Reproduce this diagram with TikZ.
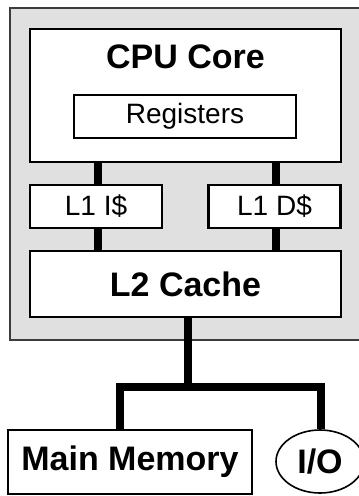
\documentclass[tikz,border=0pt]{standalone}
\usepackage{fontspec}
\setmainfont{Liberation Sans}
\usetikzlibrary{shapes.geometric}
\definecolor{chipfill}{RGB}{224,224,224}
\definecolor{chipedge}{RGB}{60,60,60}
\tikzset{
  unit/.style={draw=black, line width=2.6pt, fill=white, inner sep=0pt, rectangle},
  bigtext/.style={font=\fontsize{34}{38}\selectfont\bfseries},
  smalltext/.style={font=\fontsize{28}{32}\selectfont},
  bus/.style={line width=8.5pt, line join=miter, black},
}
\begin{document}
\begin{tikzpicture}[x=1pt, y=-1pt]
  \useasboundingbox (0,0) rectangle (359,496);
  \clip (0,0) rectangle (359,496);

  % processor chip outline
  \node[draw=chipedge, line width=2pt, fill=chipfill, rectangle, inner sep=0pt,
        minimum width=360pt, minimum height=332pt, anchor=north west] (chip) at (8.5,7) {};

  % core and caches
  \node[unit, minimum width=311pt, minimum height=133pt] (cpu) at (185.5,95.5) {};
  \node[bigtext] (cpulabel) at (185.5,57) {CPU Core};
  \node[unit, minimum width=222pt, minimum height=43pt, smalltext] (regs) at (185,116.5) {Registers};
  \node[unit, minimum width=132pt, minimum height=43pt, smalltext] (l1i) at (96,206.5) {L1 I\$};
  \node[unit, minimum width=132pt, minimum height=43pt, smalltext] (l1d) at (274.5,206.5) {L1 D\$};
  \node[unit, minimum width=311pt, minimum height=66pt, bigtext] (l2) at (185.5,284) {L2 Cache};

  % off-chip parts
  \node[unit, minimum width=244pt, minimum height=64pt, bigtext] (mem) at (130,462) {Main Memory};
  \node[draw=black, line width=1.6pt, fill=white, ellipse, inner sep=0pt,
        minimum width=88pt, minimum height=63pt, bigtext] (io) at (320,461.5) {I/O};

  % bus junction points
  \coordinate (ci) at (98,0);
  \coordinate (cd) at (276,0);
  \coordinate (j) at (188,387);
  \coordinate (ml) at (120,387);
  \coordinate (mr) at (321,387);

  % connections
  \draw[bus] (cpu.south -| ci) -- (l1i.north -| ci);
  \draw[bus] (l1i.south -| ci) -- (l2.north -| ci);
  \draw[bus] (cpu.south -| cd) -- (l1d.north -| cd);
  \draw[bus] (l1d.south -| cd) -- (l2.north -| cd);
  \draw[bus] (l2.south -| j) -- (j);
  \draw[bus] (mem.north -| ml) -- (ml) -- (mr) -- (io.north -| mr);
\end{tikzpicture}
\end{document}
